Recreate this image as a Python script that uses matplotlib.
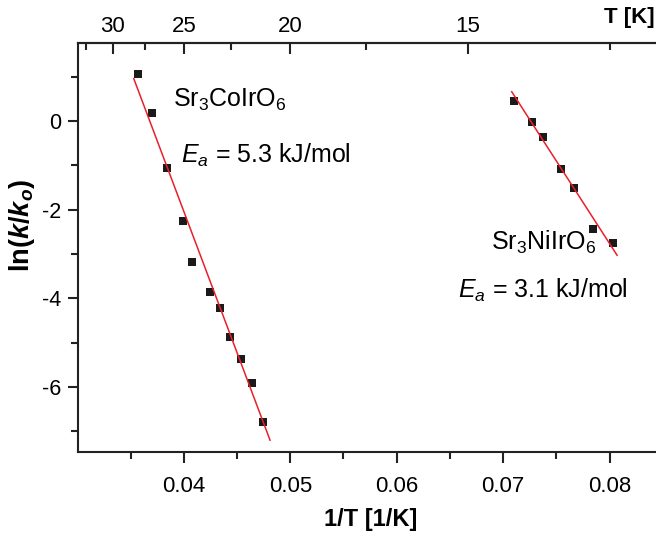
import numpy as np
import matplotlib
matplotlib.use('Agg')
import matplotlib.pyplot as plt

plt.rcParams['font.family'] = ['Liberation Sans', 'DejaVu Sans']
plt.rcParams['mathtext.fontset'] = 'custom'
plt.rcParams['mathtext.rm'] = 'Liberation Sans'
plt.rcParams['mathtext.it'] = 'Liberation Sans:italic'
plt.rcParams['mathtext.bf'] = 'Liberation Sans:italic:bold'
plt.rcParams['axes.unicode_minus'] = False

# relaxation data, 1/T [1/K] vs ln(k/k0)
co_x = [0.03572, 0.03703, 0.03841, 0.03994, 0.04076, 0.04245,
        0.04342, 0.04438, 0.04542, 0.04645, 0.04746]
co_y = [1.06, 0.17, -1.07, -2.26, -3.19, -3.87, -4.21, -4.88, -5.36, -5.92, -6.79]
ni_x = [0.07105, 0.07268, 0.07375, 0.07541, 0.07663, 0.07841, 0.08032]
ni_y = [0.46, -0.02, -0.37, -1.08, -1.51, -2.43, -2.75]

# Arrhenius fits: activation energy (kJ/mol), intercept, fit range
co_ea, co_b, co_fit_x = 5.3, 23.46, [0.0353, 0.0481]
ni_ea, ni_b, ni_fit_x = 3.1, 27.06, [0.0708, 0.0807]
R = 8.314e-3  # kJ/(mol K)

# temperature ticks for the top axis
t_major = [30, 25, 20, 15]
t_minor = [32.5, 27.5, 22.5, 17.5, 12.5]


def arrhenius(x, ea, b):
    return b - ea / R * np.asarray(x)


def inv(x):
    x = np.asarray(x, dtype=float)
    with np.errstate(divide='ignore'):
        return 1.0 / x


fig = plt.figure(figsize=(6.56, 5.41), dpi=100)
ax = fig.add_axes([0.1195, 0.1645, 0.891, 0.756])

spine_c = '#222222'
ax.plot(co_fit_x, arrhenius(co_fit_x, co_ea, co_b), color='#e8202a', lw=1.1, zorder=3)
ax.plot(ni_fit_x, arrhenius(ni_fit_x, ni_ea, ni_b), color='#e8202a', lw=1.1, zorder=3)
ax.plot(co_x, co_y, 's', color='#1a1a1a', ms=6, mew=0, zorder=2)
ax.plot(ni_x, ni_y, 's', color='#1a1a1a', ms=6, mew=0, zorder=2)

ax.set_xlim(0.0301, 0.085)
ax.set_ylim(-7.47, 1.76)
ax.set_xticks([0.04, 0.05, 0.06, 0.07, 0.08])
ax.set_xticks(np.arange(0.035, 0.085, 0.01), minor=True)
ax.set_xticklabels(['0.04', '0.05', '0.06', '0.07', '0.08'])
ax.set_yticks([-6, -4, -2, 0])
ax.set_yticks([-7, -5, -3, -1, 1], minor=True)

for s in ax.spines.values():
    s.set_linewidth(1.5)
    s.set_color(spine_c)
ax.tick_params(which='both', top=False, right=False, direction='out',
               width=1.5, color=spine_c)
ax.tick_params(axis='x', which='major', length=8, labelsize=16, pad=9)
ax.tick_params(axis='x', which='minor', length=5)
ax.tick_params(axis='y', which='major', length=7, labelsize=15.5, pad=5)
ax.tick_params(axis='y', which='minor', length=5)

ax.set_xlabel('1/T [1/K]', fontsize=17, fontweight='bold', labelpad=8)
ax.set_ylabel(r'ln($\mathbf{k}$/$\mathbf{k}_\mathbf{o}$)', fontsize=19.5, fontweight='bold')
ax.yaxis.set_label_coords(-0.07, 0.553)

# temperature scale on top
secax = ax.secondary_xaxis('top', functions=(inv, inv))
secax.set_xticks(t_major)
secax.set_xticks(t_minor, minor=True)
secax.set_xticklabels([str(t) for t in t_major])
secax.spines['top'].set_linewidth(1.5)
secax.spines['top'].set_color(spine_c)
secax.tick_params(which='both', direction='in', width=1.5, color=spine_c)
secax.tick_params(which='major', length=8, labelsize=16, pad=4)
secax.tick_params(which='minor', length=5)
fig.text(0.998, 0.9575, 'T [K]', ha='right', va='baseline', fontsize=16, fontweight='bold')

# sample labels
ax.text(0.03903, 0.32, r'Sr$_3$CoIrO$_6$', fontsize=18, va='baseline')
ax.text(0.03973, -0.94, r'$E_a$ = 5.3 kJ/mol', fontsize=18, va='baseline')
ax.text(0.06886, -2.91, r'Sr$_3$NiIrO$_6$', fontsize=18, va='baseline')
ax.text(0.06579, -4.00, r'$E_a$ = 3.1 kJ/mol', fontsize=18, va='baseline')

fig.savefig('out.png', dpi=100)
